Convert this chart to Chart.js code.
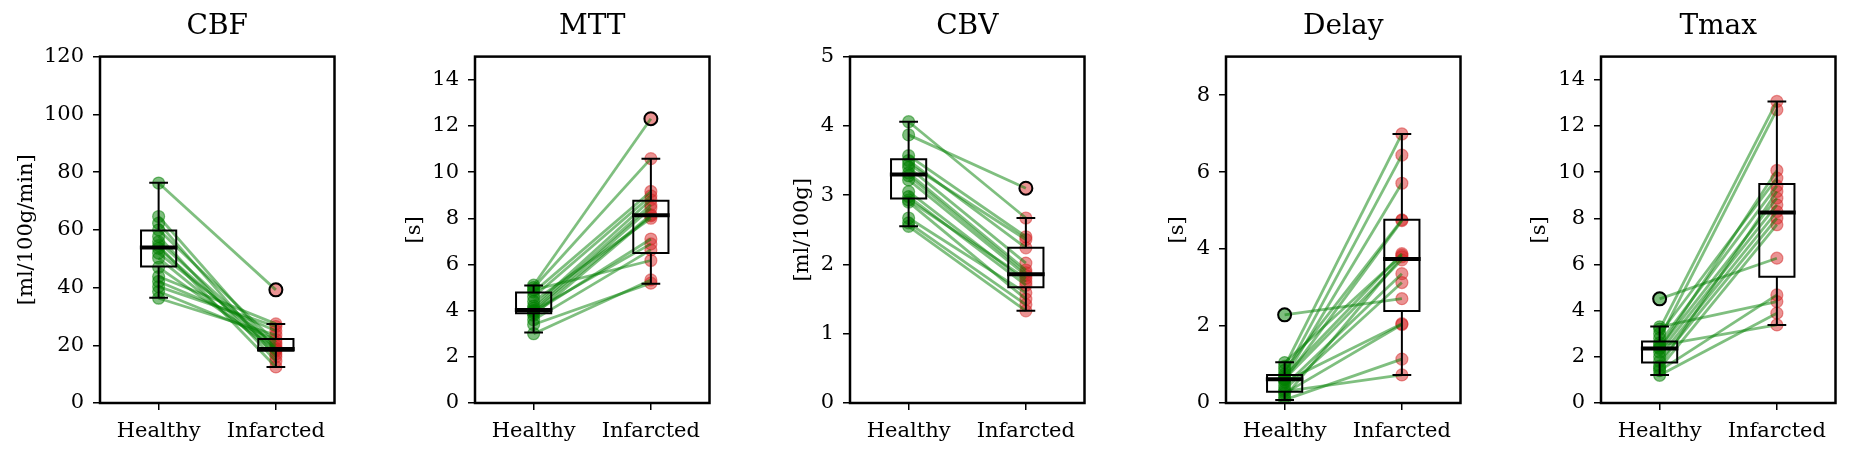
<!DOCTYPE html>
<html lang="en">
<head>
<meta charset="UTF-8">
<title>Perfusion parameters</title>
<style>
  html, body { margin: 0; padding: 0; background: #fff; }
  #fig { position: relative; width: 1858px; height: 455px; }
  .panel { position: absolute; top: 0; height: 455px; }
</style>
</head>
<body>
<div id="fig"></div>

<script src="https://cdn.jsdelivr.net/npm/chart.js"></script>
<script>
// categories and panel labels
const groups = ['Healthy', 'Infarcted'];
const panelTitles = ['CBF', 'MTT', 'CBV', 'Delay', 'Tmax'];
const panelUnits = ['[ml/100g/min]', '[s]', '[ml/100g]', '[s]', '[s]'];
const yMax = [120, 15, 5, 9, 15];
const yStep = [20, 2, 1, 2, 2];

// paired values per subject (healthy[i] -> infarcted[i])
const cbfHealthy   = [76.2, 64.6, 62.3, 60.0, 57.7, 55.9, 54.5, 53.6, 51.9, 50.2, 47.0, 43.8, 42.1, 40.3, 38.6, 36.3];
const cbfInfarcted = [39.2, 18.5, 16.0, 21.0, 14.5, 19.0, 12.5, 18.0, 20.0, 17.0, 18.7, 27.4, 25.0, 26.5, 22.0, 23.5];

const mttHealthy   = [5.1, 5.0, 4.9, 4.8, 4.6, 4.4, 4.2, 4.1, 4.0, 4.0, 3.95, 3.9, 3.8, 3.6, 3.4, 3.0];
const mttInfarcted = [12.31, 10.58, 6.17, 9.16, 8.97, 8.0, 8.8, 8.58, 8.44, 6.89, 8.15, 7.1, 8.1, 6.63, 5.19, 5.33];

const cbvHealthy   = [4.06, 3.87, 3.57, 3.50, 3.45, 3.40, 3.32, 3.28, 3.22, 3.05, 2.98, 2.93, 2.90, 2.67, 2.60, 2.55];
const cbvInfarcted = [2.67, 3.10, 2.40, 2.24, 2.36, 2.02, 1.92, 1.88, 1.84, 1.75, 1.70, 1.80, 1.50, 1.59, 1.42, 1.33];

const delayHealthy   = [2.29, 1.05, 0.95, 0.85, 0.75, 0.70, 0.65, 0.62, 0.60, 0.55, 0.45, 0.35, 0.30, 0.25, 0.15, 0.08];
const delayInfarcted = [2.71, 3.84, 6.99, 4.76, 6.44, 3.88, 5.71, 3.72, 4.74, 2.06, 3.36, 3.13, 0.73, 2.04, 3.80, 1.14];

const tmaxHealthy   = [4.51, 3.30, 3.20, 3.00, 2.80, 2.60, 2.50, 2.40, 2.35, 2.20, 2.00, 1.80, 1.60, 1.50, 1.40, 1.20];
const tmaxInfarcted = [6.27, 4.39, 13.06, 9.74, 12.70, 9.40, 3.38, 8.87, 10.07, 8.58, 8.29, 8.00, 9.16, 7.72, 4.68, 3.89];

// box stats: [lower whisker, q1, median, q3, upper whisker]
const cbfBox   = [[36.5, 47.3, 53.9, 59.8, 76.3], [12.5, 18.1, 18.7, 22.2, 27.4]];
const mttBox   = [[3.05, 3.89, 4.03, 4.78, 5.09], [5.16, 6.49, 8.13, 8.76, 10.58]];
const cbvBox   = [[2.55, 2.95, 3.30, 3.52, 4.06], [1.33, 1.67, 1.86, 2.24, 2.67]];
const delayBox = [[0.08, 0.29, 0.62, 0.73, 1.06], [0.73, 2.39, 3.74, 4.76, 6.99]];
const tmaxBox  = [[1.21, 1.75, 2.36, 2.66, 3.31], [3.38, 5.47, 8.25, 9.48, 13.06]];

// fliers
const cbfOut   = [[], [39.2]];
const mttOut   = [[], [12.31]];
const cbvOut   = [[], [3.10]];
const delayOut = [[2.29], []];
const tmaxOut  = [[4.51], []];

const panels = [
  { h: cbfHealthy, i: cbfInfarcted, box: cbfBox, out: cbfOut },
  { h: mttHealthy, i: mttInfarcted, box: mttBox, out: mttOut },
  { h: cbvHealthy, i: cbvInfarcted, box: cbvBox, out: cbvOut },
  { h: delayHealthy, i: delayInfarcted, box: delayBox, out: delayOut },
  { h: tmaxHealthy, i: tmaxInfarcted, box: tmaxBox, out: tmaxOut }
];

// layout
const plotLeft = [100, 475, 850, 1226, 1601];
const plotW = 243;
const axisW = [86, 73, 60, 61, 74];

const GREEN = 'rgba(0,128,0,0.5)';
const RED = 'rgba(214,39,40,0.5)';
const FONT = 'DejaVu Serif';

const frame = {
  id: 'frame',
  afterDatasetsDraw(chart) {
    const { ctx, chartArea: a } = chart;
    ctx.save();
    ctx.strokeStyle = '#000';
    ctx.lineWidth = 2.5;
    ctx.strokeRect(a.left, a.top, a.right - a.left, a.bottom - a.top);
    ctx.restore();
  }
};

function seg(pts, width) {
  return { data: pts, showLine: true, borderColor: '#000', borderWidth: width,
           pointRadius: 0, order: 0, clip: 0, borderJoinStyle: 'miter' };
}

function boxSets(pos, s) {
  const [lo, q1, med, q3, hi] = s;
  const w = 0.15, c = 0.08;
  return [
    seg([{x: pos, y: q3}, {x: pos, y: hi}], 2),
    seg([{x: pos, y: lo}, {x: pos, y: q1}], 2),
    seg([{x: pos - c, y: hi}, {x: pos + c, y: hi}], 2),
    seg([{x: pos - c, y: lo}, {x: pos + c, y: lo}], 2),
    seg([{x: pos - w, y: q1}, {x: pos + w, y: q1}, {x: pos + w, y: q3},
         {x: pos - w, y: q3}, {x: pos - w, y: q1}, {x: pos + w, y: q1}], 2),
    seg([{x: pos - w - 0.01, y: med}, {x: pos + w + 0.01, y: med}], 4)
  ];
}

const fig = document.getElementById('fig');

panels.forEach(function(p, k) {
  const div = document.createElement('div');
  div.className = 'panel';
  div.style.left = (plotLeft[k] - axisW[k]) + 'px';
  div.style.width = (axisW[k] + plotW) + 'px';
  const canvas = document.createElement('canvas');
  div.appendChild(canvas);
  fig.appendChild(div);

  const datasets = [];
  // boxes on top
  p.box.forEach(function(s, g) { boxSets(g + 1, s).forEach(d => datasets.push(d)); });
  // fliers
  p.out.forEach(function(vals, g) {
    datasets.push({
      data: vals.map(v => ({x: g + 1, y: v})),
      pointRadius: 6.5, pointBackgroundColor: 'rgba(0,0,0,0)',
      pointBorderColor: '#000', pointBorderWidth: 2, order: 1, clip: 0
    });
  });
  // paired lines
  p.h.forEach(function(v, j) {
    datasets.push({
      data: [{x: 1, y: v}, {x: 2, y: p.i[j]}], showLine: true,
      borderColor: GREEN, borderWidth: 2.8, pointRadius: 0, order: 2, clip: 0
    });
  });
  // points
  datasets.push({ data: p.h.map(v => ({x: 1, y: v})), pointRadius: 6,
    pointBackgroundColor: GREEN, pointBorderColor: GREEN, pointBorderWidth: 1.2, order: 3, clip: 0 });
  datasets.push({ data: p.i.map(v => ({x: 2, y: v})), pointRadius: 6,
    pointBackgroundColor: RED, pointBorderColor: RED, pointBorderWidth: 1.2, order: 3, clip: 0 });

  new Chart(canvas, {
    type: 'scatter',
    data: { datasets: datasets },
    options: {
      responsive: true,
      maintainAspectRatio: false,
      animation: false,
      layout: { padding: 0 },
      plugins: {
        legend: { display: false },
        tooltip: { enabled: false },
        title: {
          display: true, text: panelTitles[k], fullSize: false, color: '#000',
          font: { family: FONT, size: 28, weight: 'normal' },
          padding: { top: 10, bottom: 13 }
        }
      },
      scales: {
        x: {
          type: 'linear', min: 0.5, max: 2.5,
          afterBuildTicks: function(axis) { axis.ticks = [{value: 1}, {value: 2}]; },
          afterFit: function(axis) { axis.height = 52; },
          ticks: { callback: v => groups[v - 1], color: '#000', padding: 9,
                   font: { family: FONT, size: 21 }, maxRotation: 0 },
          grid: { drawOnChartArea: false, drawTicks: true, tickLength: 7,
                  color: '#000', lineWidth: 1.5 },
          border: { display: false }
        },
        y: {
          min: 0, max: yMax[k],
          afterFit: function(axis) { axis.width = axisW[k]; },
          ticks: { stepSize: yStep[k], includeBounds: false, color: '#000', padding: 9,
                   font: { family: FONT, size: 21 } },
          grid: { drawOnChartArea: false, drawTicks: true, tickLength: 7,
                  color: '#000', lineWidth: 1.5 },
          border: { display: false },
          title: { display: true, text: panelUnits[k], color: '#000', padding: 0,
                   font: { family: FONT, size: 21 } }
        }
      }
    },
    plugins: [frame]
  });
});
</script>
</body>
</html>
